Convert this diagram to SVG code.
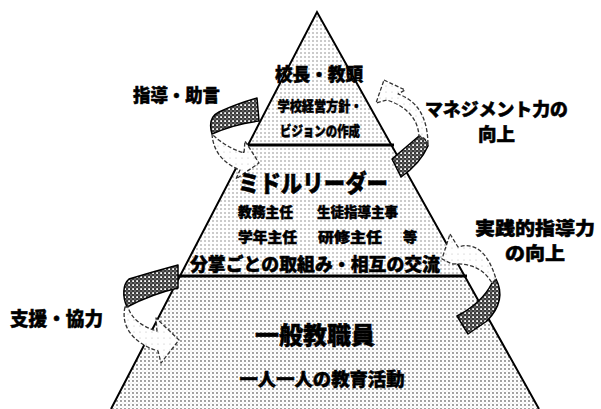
<svg xmlns="http://www.w3.org/2000/svg" width="601" height="409" viewBox="0 0 601 409">
<defs>
<pattern id="pyr" width="4" height="4" patternUnits="userSpaceOnUse">
<rect width="4" height="4" fill="#fff"/>
<circle cx="1" cy="1" r="0.8" fill="#8a8a8a"/>
</pattern>
<pattern id="pyr2" width="4" height="4" patternUnits="userSpaceOnUse">
<rect width="4" height="4" fill="#fff"/>
<circle cx="1" cy="1" r="0.9" fill="#777"/>
<circle cx="3" cy="3" r="0.4" fill="#aaa"/>
</pattern>
<pattern id="dark" width="4" height="4" patternUnits="userSpaceOnUse">
<rect width="4" height="4" fill="#3a3a3a"/>
<rect x="0.2" y="0.2" width="1.8" height="1.8" fill="#fff"/>
<rect x="2.5" y="2.5" width="1" height="1" fill="#ddd"/>
</pattern>
<pattern id="light" width="6" height="6" patternUnits="userSpaceOnUse">
<rect width="6" height="6" fill="#fff"/>
<circle cx="2" cy="2" r="0.6" fill="#bbb"/>
</pattern>
<style>
.t{font-family:"Noto Sans CJK JP","Noto Sans CJK SC",sans-serif;font-weight:900;fill:#000;stroke:#000;stroke-width:0.5}
.edge{fill:none;stroke:#000;stroke-width:2;stroke-linejoin:miter}
.tier{stroke:#000;stroke-width:3}
.dk{fill:url(#dark);stroke:#000;stroke-width:1.5;stroke-linejoin:round}
.lt{fill:url(#light);stroke:#333;stroke-width:1.3;stroke-dasharray:4 2;stroke-linejoin:round}
</style>
</defs>

<g id="tier-top">
<polygon points="317,12 391,145 248,145" fill="url(#pyr)"/>
</g>
<g id="tier-middle">
<polygon points="248,145 391,145 465,276 180,276" fill="url(#pyr)"/>
</g>
<g id="tier-bottom">
<polygon points="180,276 465,276 539,409 111,409" fill="url(#pyr2)"/>
</g>
<g id="pyramid-lines">
<path class="edge" d="M111,409 L317,12 L539,409"/>
<line class="tier" x1="246" y1="145" x2="394" y2="145"/>
<line class="tier" x1="178" y1="276" x2="467" y2="276"/>
</g>

<g id="connectors">
<g id="arrow-guidance">
<path class="dk" d="M212,134 C209,124 211,116 219,112 Q236,104 257,98 L259,121 Q234,124 212,134 Z"/>
<path class="lt" d="M212,134 C213,150 222,163 240,170 L236,179 L259,163 L245,141 L244,153 C231,149 222,143 214,136 Z"/>
</g>
<g id="arrow-management">
<path class="dk" d="M392,159 L419,136 Q427,138 428,146 Q420,164 401,177 Z"/>
<path class="lt" d="M384,80 L405,90 L398,94 C418,101 428,118 428,146 Q427,138 419,136 C418,120 408,107 387,100 L376,103 Z"/>
</g>
<g id="arrow-support">
<path class="dk" d="M127,307 C122,296 123,284 129,279 Q152,272 178,265 L178,288 Q152,294 127,307 Z"/>
<path class="lt" d="M125,307 C121,324 130,342 158,351 L161,363 L179,340 L156,318 L157,331 C142,327 131,318 128,307 Z"/>
</g>
<g id="arrow-practice">
<path class="dk" d="M496,279 Q507,300 487,321 L468,334 L457,316 Q482,303 492,283 Z"/>
<path class="lt" d="M450,234 L458,247 Q484,239 496,279 L492,283 Q480,262 452,264 L442,259 Z"/>
</g>
</g>

<g id="node-principal">
<text class="t" x="319" y="81" font-size="18" text-anchor="middle" textLength="88" lengthAdjust="spacingAndGlyphs">校長・教頭</text>
<text class="t" x="320" y="111" font-size="14" text-anchor="middle" textLength="85" lengthAdjust="spacingAndGlyphs">学校経営方針・</text>
<text class="t" x="320" y="136" font-size="14" text-anchor="middle" textLength="80" lengthAdjust="spacingAndGlyphs">ビジョンの作成</text>
</g>

<g id="node-middle-leader">
<text class="t" x="313" y="192" font-size="24" text-anchor="middle" textLength="150" lengthAdjust="spacingAndGlyphs">ミドルリーダー</text>
<text class="t" x="238" y="217" font-size="14" textLength="55" lengthAdjust="spacingAndGlyphs">教務主任</text>
<text class="t" x="317" y="217" font-size="14" textLength="81" lengthAdjust="spacingAndGlyphs">生徒指導主事</text>
<text class="t" x="238" y="242" font-size="14" textLength="59" lengthAdjust="spacingAndGlyphs">学年主任</text>
<text class="t" x="318" y="242" font-size="14" textLength="64" lengthAdjust="spacingAndGlyphs">研修主任</text>
<text class="t" x="403" y="242" font-size="14" textLength="14" lengthAdjust="spacingAndGlyphs">等</text>
<text class="t" x="315" y="271" font-size="18" text-anchor="middle" textLength="250" lengthAdjust="spacingAndGlyphs">分掌ごとの取組み・相互の交流</text>
</g>

<g id="node-staff">
<text class="t" x="315" y="344" font-size="24" text-anchor="middle" textLength="120" lengthAdjust="spacingAndGlyphs">一般教職員</text>
<text class="t" x="322" y="386" font-size="18" text-anchor="middle" textLength="165" lengthAdjust="spacingAndGlyphs">一人一人の教育活動</text>
</g>

<g id="label-guidance">
<text class="t" x="133" y="102" font-size="18" textLength="87" lengthAdjust="spacingAndGlyphs">指導・助言</text>
</g>
<g id="label-management">
<text class="t" x="425" y="116" font-size="18" textLength="143" lengthAdjust="spacingAndGlyphs">マネジメント力の</text>
<text class="t" x="478" y="141" font-size="18" textLength="37" lengthAdjust="spacingAndGlyphs">向上</text>
</g>
<g id="label-practice">
<text class="t" x="475" y="235" font-size="18" textLength="120" lengthAdjust="spacingAndGlyphs">実践的指導力</text>
<text class="t" x="505" y="260" font-size="18" textLength="60" lengthAdjust="spacingAndGlyphs">の向上</text>
</g>
<g id="label-support">
<text class="t" x="10" y="326" font-size="19" textLength="93" lengthAdjust="spacingAndGlyphs">支援・協力</text>
</g>
</svg>
